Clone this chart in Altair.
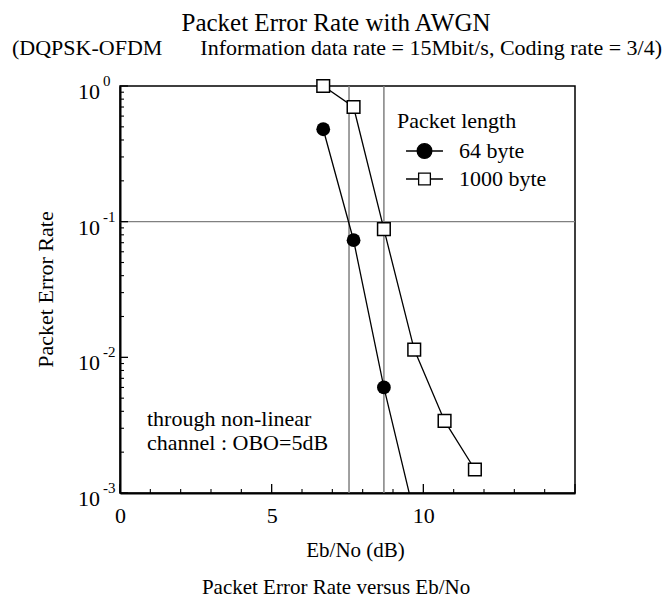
import altair as alt
import pandas as pd

# ---------------- data ----------------
series_names = ["64 byte", "1000 byte"]
ebno_64 = [6.7, 7.7, 8.7, 9.7]
per_64 = [0.48, 0.073, 0.006, 0.0007]
ebno_1000 = [6.7, 7.7, 8.7, 9.7, 10.7, 11.7]
per_1000 = [1.0, 0.70, 0.088, 0.0114, 0.0034, 0.00149]
ref_ebno = [7.55, 8.7]
ref_per = [0.1]
x_major = [0, 5, 10, 15]
x_minor = [1, 2, 3, 4, 6, 7, 8, 9, 11, 12, 13, 14]
x_labels = [0, 5, 10]
y_major = [1, 0.1, 0.01, 0.001]
y_exp = ["0", "-1", "-2", "-3"]
y_minor = [0.002, 0.003, 0.004, 0.005, 0.006, 0.007, 0.008, 0.009,
           0.02, 0.03, 0.04, 0.05, 0.06, 0.07, 0.08, 0.09,
           0.2, 0.3, 0.4, 0.5, 0.6, 0.7, 0.8, 0.9]
title_text = "Packet Error Rate with AWGN"
subtitle_left = "(DQPSK-OFDM"
subtitle_right = "Information data rate = 15Mbit/s, Coding rate = 3/4)"
x_title = "Eb/No (dB)"
y_title = "Packet Error Rate"
caption = "Packet Error Rate versus Eb/No"
legend_title = "Packet length"
note_lines = ["through non-linear", "channel : OBO=5dB"]

FONT = "Liberation Serif"
W, H = 455, 407

df_lines = pd.concat([
    pd.DataFrame({"series": series_names[0], "ebno": ebno_64, "per": per_64}),
    pd.DataFrame({"series": series_names[1], "ebno": ebno_1000, "per": per_1000}),
])
df64 = df_lines[df_lines.series == series_names[0]]
df1000 = df_lines[df_lines.series == series_names[1]]

xs = alt.Scale(domain=[0, 15], nice=False, zero=False)
ys = alt.Scale(type="log", domain=[0.001, 1], nice=False)

xaxis = alt.Axis(values=x_labels, ticks=False, grid=False, domainColor="black",
                 domainWidth=2, labelFont=FONT, labelFontSize=22, labelColor="black",
                 labelPadding=12, labelFlush=False, title=x_title, titleFont=FONT,
                 titleFontSize=21, titleFontWeight="normal", titleColor="black",
                 titleX=235, titleY=57, titleBaseline="middle", titleAlign="center")
yaxis = alt.Axis(labels=False, ticks=False, grid=False, domainColor="black",
                 domainWidth=2, title=y_title, titleFont=FONT, titleFontSize=22,
                 titleFontWeight="normal", titleColor="black", titleX=-75, titleY=203,
                 titleAngle=270, titleBaseline="middle", titleAlign="center")


def X(field):
    return alt.X(field, scale=xs, axis=xaxis)


def Y(field):
    return alt.Y(field, scale=ys, axis=yaxis)


lines = alt.Chart(df_lines).mark_line(clip=True, color="black", strokeWidth=1.3).encode(
    x=X("ebno:Q"), y=Y("per:Q"), detail="series:N", order="ebno:Q")

vrules = alt.Chart(pd.DataFrame({"ebno": ref_ebno})).mark_rule(
    color="#808080", strokeWidth=1.5).encode(x=X("ebno:Q"))
hrules = alt.Chart(pd.DataFrame({"per": ref_per})).mark_rule(
    color="#808080", strokeWidth=1.2).encode(y=Y("per:Q"))

circles = alt.Chart(df64).mark_point(shape="circle", filled=True, color="black", size=190,
                                     opacity=1, clip=True).encode(x=X("ebno:Q"), y=Y("per:Q"))
squares = alt.Chart(df1000).mark_point(shape="square", filled=True, fill="white", stroke="black",
                                       strokeWidth=1.5, size=160, opacity=1).encode(
    x=X("ebno:Q"), y=Y("per:Q"))

xt_major = alt.Chart(pd.DataFrame({"ebno": x_major})).mark_rule(color="black", strokeWidth=1.3).encode(
    x=X("ebno:Q"), y=alt.value(H), y2=alt.value(H - 9))
xt_minor = alt.Chart(pd.DataFrame({"ebno": x_minor})).mark_rule(color="black", strokeWidth=1.1).encode(
    x=X("ebno:Q"), y=alt.value(H), y2=alt.value(H - 4))
yt_major = alt.Chart(pd.DataFrame({"per": y_major})).mark_rule(color="black", strokeWidth=1.3).encode(
    y=Y("per:Q"), x=alt.value(0), x2=alt.value(8))
yt_minor = alt.Chart(pd.DataFrame({"per": y_minor})).mark_rule(color="black", strokeWidth=1.1).encode(
    y=Y("per:Q"), x=alt.value(0), x2=alt.value(4))

df_ylab = pd.DataFrame({"per": y_major, "e": y_exp})
ylab_base = alt.Chart(df_ylab).mark_text(font=FONT, fontSize=22, align="right", baseline="middle",
                                         dy=6, color="black").encode(
    y=Y("per:Q"), x=alt.value(-20), text=alt.value("10"))
ylab_exp = alt.Chart(df_ylab).mark_text(font=FONT, fontSize=15, align="left", baseline="middle",
                                        dy=-5, color="black").encode(
    y=Y("per:Q"), x=alt.value(-17), text="e:N")

circle_path = "M-2.64,0H2.64M1.05,0A1.05,1.05,0,1,1,-1.05,0A1.05,1.05,0,1,1,1.05,0Z"
square_path = "M-2.64,0H-0.84M0.84,0H2.64M-0.84,-0.84H0.84V0.84H-0.84Z"
leg = alt.Legend(title=legend_title, orient="none", legendX=277, legendY=25,
                 titleFont=FONT, titleFontSize=22, titleFontWeight="normal", titleColor="black",
                 labelFont=FONT, labelFontSize=22, labelColor="black",
                 symbolSize=196, symbolOffset=16.5, labelOffset=23.5, rowPadding=6,
                 titlePadding=7, padding=0, symbolStrokeColor="black",
                 symbolStrokeWidth=1.3, symbolOpacity=1)
legend_layer = alt.Chart(pd.DataFrame({"series": series_names})).mark_point(
    clip=True, filled=True, strokeWidth=1.3, opacity=1).encode(
    x=alt.value(-50), y=alt.value(-50),
    shape=alt.Shape("series:N", scale=alt.Scale(domain=series_names, range=[circle_path, square_path]),
                    legend=leg),
    fill=alt.Fill("series:N", scale=alt.Scale(domain=series_names, range=["black", "white"]),
                  legend=leg),
    stroke=alt.Stroke("series:N", scale=alt.Scale(domain=series_names, range=["black", "black"]),
                      legend=leg),
)

note = alt.Chart(pd.DataFrame({"t": ["\n".join(note_lines)]})).mark_text(
    font=FONT, fontSize=22, align="left", baseline="middle", lineBreak="\n", lineHeight=24,
    color="black").encode(x=alt.value(27), y=alt.value(333), text="t:N")


def label(txt, x, y, size, align):
    return alt.Chart(pd.DataFrame({"t": [txt]})).mark_text(
        font=FONT, fontSize=size, align=align, baseline="alphabetic", color="black").encode(
        x=alt.value(x), y=alt.value(y), text="t:N")


t_title = label(title_text, 216, -55, 25, "center")
t_sub_l = label(subtitle_left, -108, -31, 22, "left")
t_sub_r = label(subtitle_right, 542, -31, 22, "right")
t_caption = label(caption, 216, 508, 21, "center")

chart = alt.layer(
    vrules, hrules, lines, xt_major, xt_minor, yt_major, yt_minor,
    circles, squares, ylab_base, ylab_exp, legend_layer, note,
    t_title, t_sub_l, t_sub_r, t_caption,
).properties(
    width=W, height=H,
    padding={"left": 112, "top": 78, "right": 89, "bottom": 106},
    autosize=alt.AutoSizeParams(type="none"),
).configure(font=FONT).configure_view(stroke="black", strokeWidth=1.5)

chart.save("out.html", embed_options={"renderer": "svg", "actions": False})
